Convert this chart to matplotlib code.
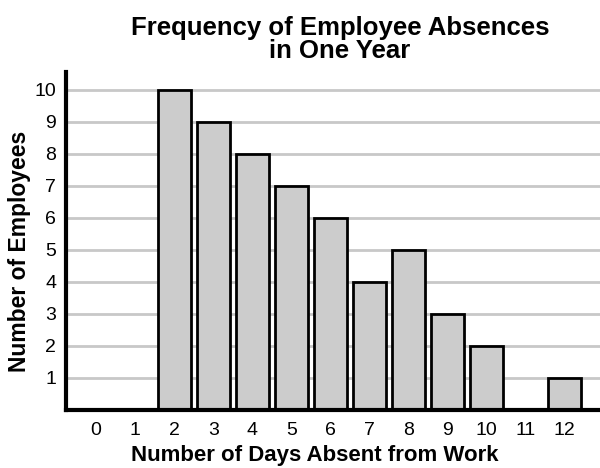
import matplotlib.pyplot as plt

days = list(range(13))
employees = [0, 0, 10, 9, 8, 7, 6, 4, 5, 3, 2, 0, 1]
y_ticks = list(range(1, 11))

plt.rcParams['font.family'] = ['Liberation Sans', 'DejaVu Sans']

fig = plt.figure(figsize=(6, 4.68), dpi=100)
ax = fig.add_axes([0.11, 0.124, 0.89, 0.722])

for y in y_ticks:
    ax.axhline(y, color='#c8c8c8', linewidth=2, zorder=0)

ax.bar(days, employees, width=0.85, color='#cccccc', edgecolor='black',
       linewidth=2, zorder=2)

ax.set_xlim(-0.77, 12.9)
ax.set_ylim(0, 10.56)
ax.set_xticks(days)
ax.set_yticks(y_ticks)
ax.tick_params(length=0, labelsize=14)
ax.tick_params(axis='y', pad=7)
ax.tick_params(axis='x', pad=9)

for side in ['top', 'right']:
    ax.spines[side].set_visible(False)
for side in ['left', 'bottom']:
    ax.spines[side].set_linewidth(3)
    ax.spines[side].set_zorder(3)

ax.set_xlabel('Number of Days Absent from Work', fontsize=16, fontweight='bold')
ax.xaxis.set_label_coords(0.466, -0.105)
ax.set_ylabel('Number of Employees', fontsize=16.5, fontweight='bold')
ax.yaxis.set_label_coords(-0.066, 0.47)
ax.set_title('Frequency of Employee Absences\nin One Year', fontsize=18.5,
             fontweight='bold', linespacing=0.95, pad=10, x=0.513)

fig.savefig('out.png', dpi=100)
